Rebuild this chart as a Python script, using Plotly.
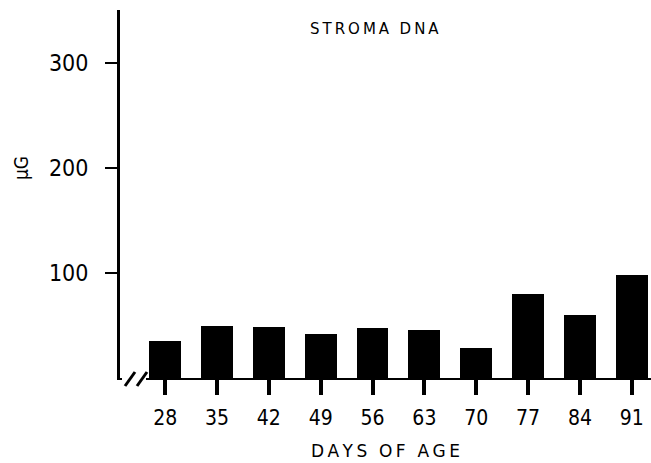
import plotly.graph_objects as go

days = [28, 35, 42, 49, 56, 63, 70, 77, 84, 91]
dna_ug = [35, 50, 49, 42, 48, 46, 29, 80, 60, 98]
y_ticks = [100, 200, 300]

FONT = "DejaVu Sans Condensed, DejaVu Sans"
HS = "\u2009"

def spaced(s):
    return HS.join(s).replace(HS + " " + HS, "\u2002\u2009")

fig = go.Figure()
fig.add_trace(go.Bar(x=days, y=dna_ug, width=4.3,
                     marker=dict(color="black", line=dict(width=0))))

fig.update_layout(
    width=651, height=463,
    margin=dict(l=120, r=0, t=10, b=85),
    paper_bgcolor="white", plot_bgcolor="white",
    showlegend=False,
    font=dict(family=FONT, color="black"),
    bargap=0,
)
fig.update_xaxes(
    range=[21.9, 93.6], tickvals=days, ticktext=[str(d) for d in days],
    ticks="outside", ticklen=15, tickwidth=4, tickcolor="black",
    showline=True, linecolor="black", linewidth=2,
    showgrid=False, zeroline=False,
    tickfont=dict(size=21, family=FONT), ticklabelstandoff=5,
    title=dict(text=spaced("DAYS OF AGE"), font=dict(size=17, family="DejaVu Sans"), standoff=16),
)
fig.update_yaxes(
    range=[0, 350.5], tickvals=y_ticks, ticktext=[str(v) for v in y_ticks],
    ticks="outside", ticklen=12, tickwidth=2, tickcolor="black",
    showline=True, linecolor="black", linewidth=3,
    showgrid=False, zeroline=False,
    tickfont=dict(size=23, family=FONT), ticklabelstandoff=12,
)

def px(x):
    return (x - 120) / 531.0

def py(y):
    return (378 - y) / 368.0

# break in baseline
fig.add_shape(type="rect", xref="paper", yref="paper",
              x0=px(122), x1=px(146), y0=py(383), y1=py(373),
              fillcolor="white", line=dict(width=0), layer="above")
for x0 in (125, 137):
    fig.add_shape(type="line", xref="paper", yref="paper",
                  x0=px(x0), y0=py(386), x1=px(x0 + 10), y1=py(372),
                  line=dict(color="black", width=3), layer="above")

fig.add_annotation(text=spaced("STROMA DNA"), xref="paper", yref="paper",
                   x=px(374), y=py(18), showarrow=False,
                   font=dict(size=15, family="DejaVu Sans"))
fig.add_annotation(text="μG", xref="paper", yref="paper",
                   x=px(21), y=py(168), xanchor="center", yanchor="middle",
                   showarrow=False, textangle=-90,
                   font=dict(size=19, family=FONT))

fig.write_html("out.html")
